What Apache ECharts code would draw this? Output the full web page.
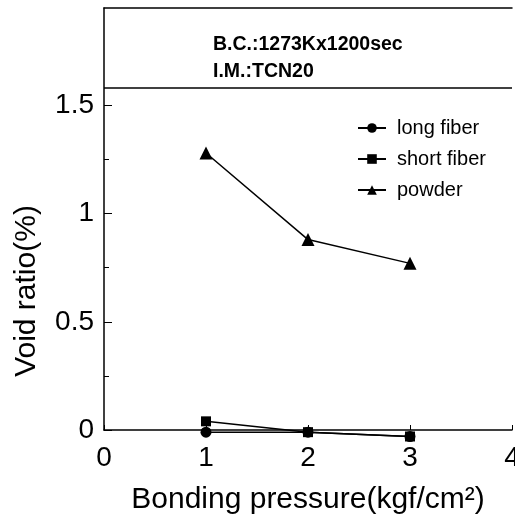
<!DOCTYPE html>
<html>
<head>
<meta charset="utf-8">
<script src="https://cdn.jsdelivr.net/npm/echarts@6/dist/echarts.min.js"></script>
<style>
  html, body { margin: 0; padding: 0; background: #fff; }
  #chart { width: 515px; height: 522px; }
</style>
</head>
<body>
<div id="chart"></div>
<script>
// bonding pressure (kgf/cm2)
var pressure = [1, 2, 3];
// void ratio (%)
var longFiber = [-0.01, -0.01, -0.03];
var shortFiber = [0.04, -0.01, -0.03];
var powder = [1.28, 0.88, 0.77];
var seriesNames = ['long fiber', 'short fiber', 'powder'];
var yMajor = [0, 0.5, 1, 1.5];
var yMinor = [0.25, 0.75, 1.25];
var noteLines = ['B.C.:1273Kx1200sec', 'I.M.:TCN20'];
var noteLimit = 1.58; // lower edge of the condition box

var font = 'Liberation Sans, Arial, Helvetica, sans-serif';
var black = '#000';

function pairs(vals) {
    return pressure.map(function(p, i) { return [p, vals[i]]; });
}

var chart = echarts.init(document.getElementById('chart'));

function lineSeries(name, data, symbol, size) {
    return {
        name: name,
        type: 'line',
        data: pairs(data),
        symbol: symbol,
        symbolSize: size,
        clip: false,
        lineStyle: { color: black, width: 1.5 },
        itemStyle: { color: black },
        emphasis: { disabled: true }
    };
}

var series = [
    lineSeries(seriesNames[0], longFiber, 'circle', 11),
    lineSeries(seriesNames[1], shortFiber, 'rect', 10),
    lineSeries(seriesNames[2], powder, 'triangle', 13)
];
// separator line under the test conditions
series[2].markLine = {
    silent: true,
    symbol: 'none',
    label: { show: false },
    lineStyle: { color: black, width: 1.5, type: 'solid' },
    data: [{ yAxis: noteLimit }]
};

var option = {
    backgroundColor: '#fff',
    animation: false,
    grid: { left: 104, right: 3, top: 8, bottom: 92, outerBoundsMode: 'none', containLabel: false },
    legend: {
        orient: 'vertical',
        left: 352,
        top: 113,
        itemWidth: 28,
        itemHeight: 12,
        itemGap: 11,
        data: seriesNames,
        textStyle: { fontFamily: font, fontSize: 20, color: black, padding: [0, 0, 0, 6] }
    },
    xAxis: [{
        type: 'value',
        min: 0,
        max: 4,
        interval: 1,
        name: 'Bonding pressure(kgf/cm²)',
        nameLocation: 'middle',
        nameGap: 55,
        nameTextStyle: { fontFamily: font, fontSize: 30, color: black },
        axisLine: { show: true, onZero: false, lineStyle: { color: black, width: 1.5 } },
        axisTick: { show: true, inside: true, length: 5, lineStyle: { color: black } },
        axisLabel: { fontFamily: font, fontSize: 28, color: black, margin: 14 },
        splitLine: { show: false }
    }, {
        type: 'value',
        position: 'top',
        min: 0,
        max: 4,
        axisLine: { show: true, onZero: false, lineStyle: { color: black, width: 1.5 } },
        axisTick: { show: false },
        axisLabel: { show: false },
        splitLine: { show: false }
    }],
    yAxis: [{
        type: 'value',
        min: 0,
        max: 1.95,
        interval: 0.5,
        axisLine: { show: true, onZero: false, lineStyle: { color: black, width: 1.5 } },
        axisTick: { show: true, inside: true, length: 8, customValues: yMajor, lineStyle: { color: black } },
        axisLabel: { fontFamily: font, fontSize: 28, color: black, margin: 10, customValues: yMajor },
        splitLine: { show: false }
    }, {
        type: 'value',
        position: 'left',
        min: 0,
        max: 1.95,
        axisLine: { show: false, onZero: false },
        axisTick: { show: true, inside: true, length: 5, customValues: yMinor, lineStyle: { color: black } },
        axisLabel: { show: false },
        splitLine: { show: false }
    }],
    graphic: [{
        type: 'text',
        x: 27,
        y: 291,
        rotation: Math.PI / 2,
        style: {
            text: 'Void ratio(%)',
            font: '30px ' + font,
            fill: black,
            textAlign: 'center',
            textVerticalAlign: 'middle'
        }
    }, {
        type: 'text',
        x: 213,
        y: 45,
        style: { text: noteLines[0], font: 'bold 19.5px ' + font, fill: black, textVerticalAlign: 'middle' }
    }, {
        type: 'text',
        x: 213,
        y: 72,
        style: { text: noteLines[1], font: 'bold 19.5px ' + font, fill: black, textVerticalAlign: 'middle' }
    }],
    series: series
};

chart.setOption(option);
</script>
</body>
</html>
